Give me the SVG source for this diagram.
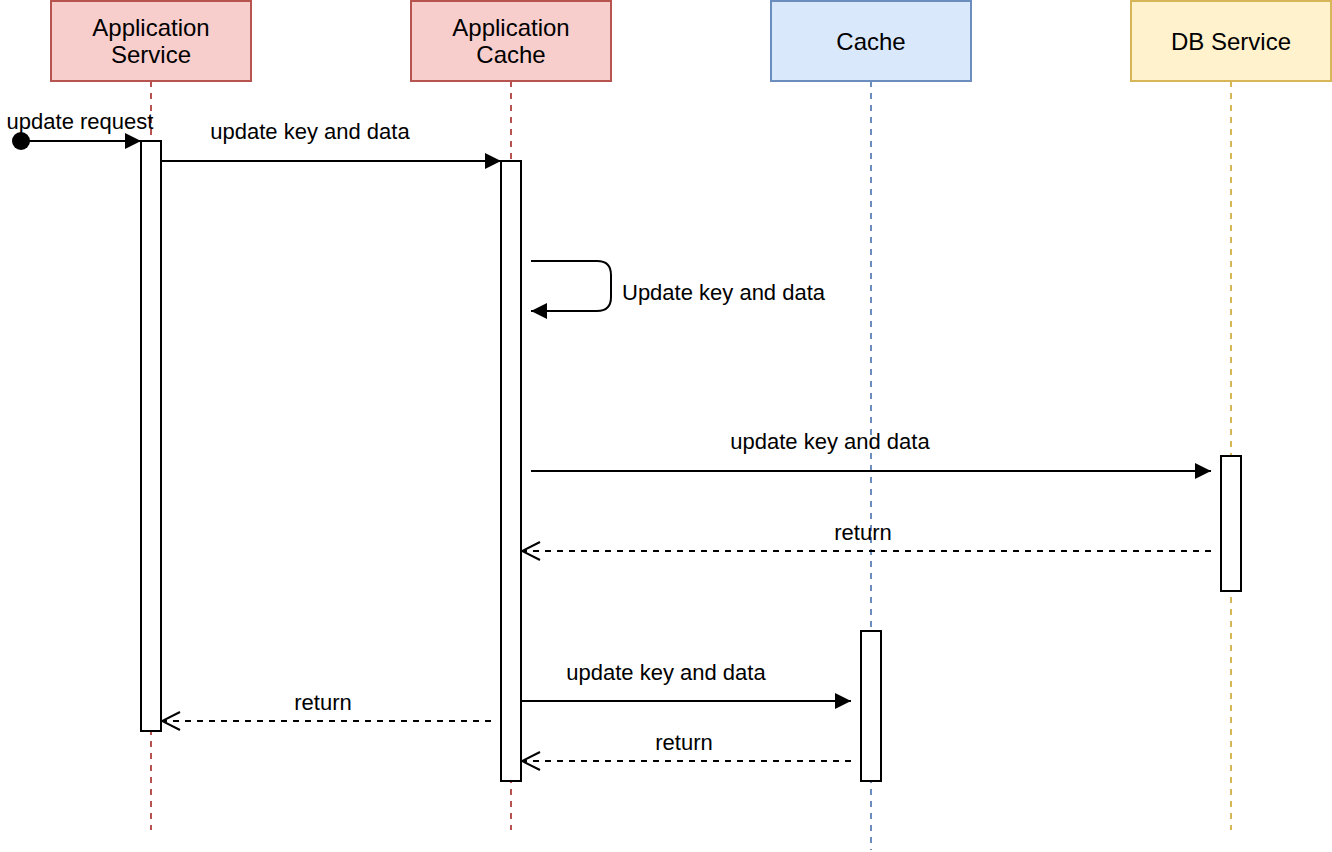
<svg xmlns="http://www.w3.org/2000/svg" width="1332" height="852" viewBox="0 0 1332 852">
<defs>
<style>
text{font-family:"Liberation Sans",Arial,Helvetica,sans-serif;fill:#000}
.hd{font-size:24px;text-anchor:middle}
.lb{font-size:22px;text-anchor:middle}
.life{fill:none;stroke-width:2;stroke-dasharray:6 6}
.act{fill:#fff;stroke:#000;stroke-width:2}
.msg{fill:none;stroke:#000;stroke-width:2}
.ret{fill:none;stroke:#000;stroke-width:2;stroke-dasharray:6 6}
</style>
<marker id="block" viewBox="0 0 16 16" refX="16" refY="8" markerWidth="16" markerHeight="16" markerUnits="userSpaceOnUse" orient="auto">
<path d="M0,0 L16,8 L0,16 Z" fill="#000"/>
</marker>
<marker id="open" viewBox="0 0 20 20" refX="19" refY="10" markerWidth="20" markerHeight="20" markerUnits="userSpaceOnUse" orient="auto">
<path d="M1,1 L19,10 L1,19" fill="none" stroke="#000" stroke-width="2"/>
</marker>
</defs>
<g id="appService">
<line class="life" x1="151" y1="81" x2="151" y2="830" stroke="#b85450"/>
<rect x="51" y="1" width="200" height="80" fill="#f8cecc" stroke="#b85450" stroke-width="2"/>
<text class="hd" x="151" y="36">Application</text>
<text class="hd" x="151" y="63">Service</text>
<rect class="act" x="141" y="141" width="20" height="590"/>
</g>
<g id="appCache">
<line class="life" x1="511" y1="81" x2="511" y2="830" stroke="#b85450"/>
<rect x="411" y="1" width="200" height="80" fill="#f8cecc" stroke="#b85450" stroke-width="2"/>
<text class="hd" x="511" y="36">Application</text>
<text class="hd" x="511" y="63">Cache</text>
<rect class="act" x="501" y="161" width="20" height="620"/>
</g>
<g id="cache">
<line class="life" x1="871" y1="81" x2="871" y2="850" stroke="#6c8ebf"/>
<rect x="771" y="1" width="200" height="80" fill="#dae8fc" stroke="#6c8ebf" stroke-width="2"/>
<text class="hd" x="871" y="50">Cache</text>
<rect class="act" x="861" y="631" width="20" height="150"/>
</g>
<g id="dbService">
<line class="life" x1="1231" y1="81" x2="1231" y2="830" stroke="#d6b656"/>
<rect x="1131" y="1" width="200" height="80" fill="#fff2cc" stroke="#d6b656" stroke-width="2"/>
<text class="hd" x="1231" y="50">DB Service</text>
<rect class="act" x="1221" y="456" width="20" height="135"/>
</g>
<g id="connectors">
<circle cx="21" cy="141" r="9" fill="#000"/>
<line class="msg" x1="21" y1="141" x2="141" y2="141" marker-end="url(#block)"/>
<text class="lb" x="80" y="129">update request</text>
<line class="msg" x1="161" y1="161" x2="501" y2="161" marker-end="url(#block)"/>
<text class="lb" x="310" y="139">update key and data</text>
<path class="msg" d="M531,261 H597 Q611,261 611,275 V297 Q611,311 597,311 H531" marker-end="url(#block)"/>
<text class="lb" x="622" y="300" style="text-anchor:start">Update key and data</text>
<line class="msg" x1="531" y1="471" x2="1211" y2="471" marker-end="url(#block)"/>
<text class="lb" x="830" y="449">update key and data</text>
<line class="ret" x1="1211" y1="551" x2="522" y2="551" marker-end="url(#open)"/>
<text class="lb" x="863" y="540">return</text>
<line class="msg" x1="521" y1="701" x2="851" y2="701" marker-end="url(#block)"/>
<text class="lb" x="666" y="680">update key and data</text>
<line class="ret" x1="851" y1="761" x2="522" y2="761" marker-end="url(#open)"/>
<text class="lb" x="684" y="750">return</text>
<line class="ret" x1="491" y1="721" x2="162" y2="721" marker-end="url(#open)"/>
<text class="lb" x="323" y="710">return</text>
</g>
</svg>
